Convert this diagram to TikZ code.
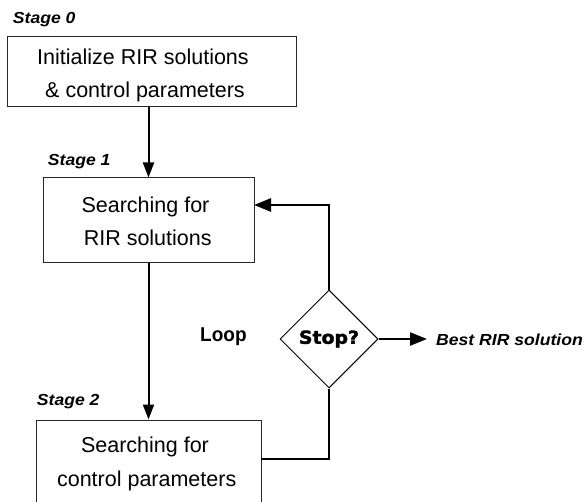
\documentclass[tikz,border=0pt]{standalone}
\usepackage{fontspec}
\setmainfont{Liberation Sans}
\newfontfamily\stagefont{Liberation Sans}[FakeStretch=1.1]
\newfontfamily\bestfont{Liberation Sans}[FakeStretch=1.1]
\newfontfamily\loopfont{Liberation Sans}[FakeStretch=0.95]
\newfontfamily\stopfont{DejaVu Sans}[FakeStretch=1.05,FakeBold=2]
\usetikzlibrary{arrows.meta,calc,shapes.geometric}
\begin{document}
\begin{tikzpicture}[x=1pt,y=-1pt,
  box/.style={draw=black!85, line width=1pt, rectangle, inner sep=0pt},
  boxtext/.style={anchor=base, inner sep=0pt, font=\fontsize{21.5}{21.5}\selectfont},
  stagelabel/.style={anchor=base west, inner sep=0pt, font=\stagefont\bfseries\itshape\fontsize{16}{16}\selectfont},
  arr/.style={line width=2pt, -{Triangle[length=15pt,width=11pt]}},
  looparr/.style={line width=2.7pt, -{Triangle[length=17pt,width=13pt]}},
  loopline/.style={line width=2.8pt},
  decision/.style={diamond, draw=black, line width=1pt, minimum width=98pt, minimum height=98pt, inner sep=0pt, aspect=1, font=\stopfont\bfseries\fontsize{18}{18}\selectfont}
]
\useasboundingbox (0,0) rectangle (585,502);
\clip (0,0) rectangle (585,502);
\fill[white] (0,0) rectangle (585,502);

% boxes
\node[box, minimum width=289pt, minimum height=70pt] (box0) at (151.5,72) {};
\node[box, minimum width=211pt, minimum height=84pt] (box1) at (148.5,220) {};
\node[box, minimum width=225pt, minimum height=96pt] (box2) at (148.5,468) {};

% box texts
\node[boxtext] (t0a) at (143,64.3) {Initialize RIR solutions};
\node[boxtext] (t0b) at (145,97.5) {\& control parameters};
\node[boxtext] (t1a) at (145.5,212.7) {Searching for};
\node[boxtext] (t1b) at (147.7,246) {RIR solutions};
\node[boxtext] (t2a) at (145,452.7) {Searching for};
\node[boxtext] (t2b) at (146.7,486.7) {control parameters};

% stage labels
\node[stagelabel] (s0) at (12.7,24) {Stage 0};
\node[stagelabel] (s1) at (47.7,166) {Stage 1};
\node[stagelabel] (s2) at (36.7,405) {Stage 2};

% decision
\node[decision] (stop) at (329,339) {Stop?};
\node[anchor=base west, inner sep=0pt, font=\loopfont\bfseries\fontsize{20}{20}\selectfont] (loop) at (200,341) {Loop};
\node[anchor=base west, inner sep=0pt, font=\bestfont\bfseries\itshape\fontsize{16}{16}\selectfont] (best) at (436,345) {Best RIR solution};

% connectors
\draw[arr] (box0.south -| box1.north) -- (box1.north);
\draw[arr] (box1.south) -- (box2.north);
\coordinate (b1in) at (254,205);
\draw[looparr] (stop.north) |- (b1in);
\coordinate (b2out) at (261,459);
\draw[loopline] (b2out) -| (stop.south);
\coordinate (bestin) at (427,339);
\draw[arr, line width=2.4pt, -{Triangle[length=17pt,width=13pt]}] (stop.east) -- (bestin);
\end{tikzpicture}
\end{document}
